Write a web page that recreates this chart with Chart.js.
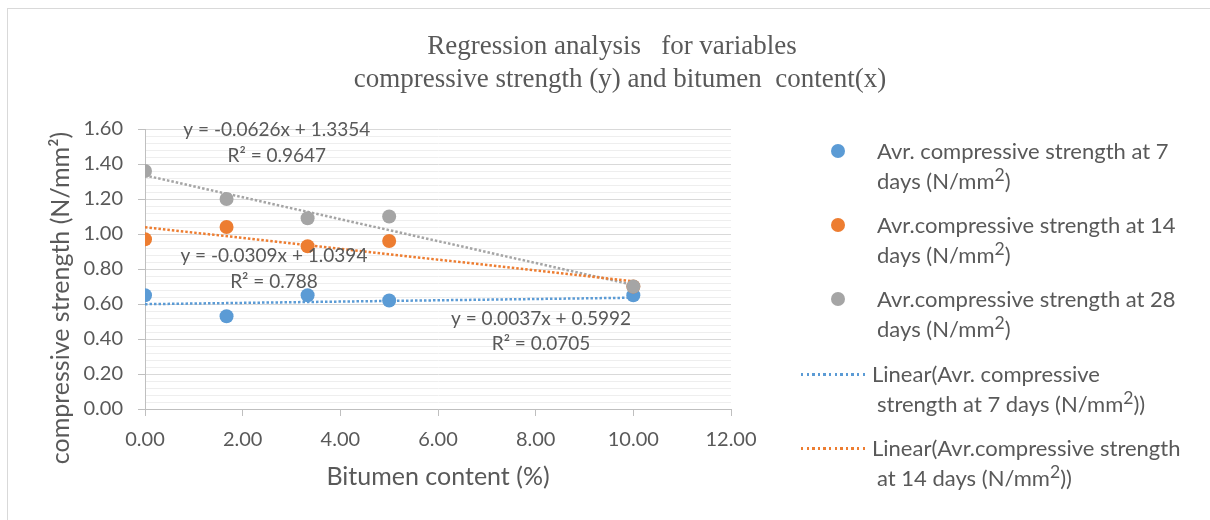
<!DOCTYPE html>
<html>
<head>
<meta charset="utf-8">
<script src="https://cdn.jsdelivr.net/npm/chart.js@4.4.1/dist/chart.umd.min.js"></script>
<style>
  html, body { margin: 0; padding: 0; background: #ffffff; }
  #wrap { position: relative; width: 1210px; height: 520px; overflow: hidden; font-family: Lato, sans-serif; color: #595959; }
  #frame { position: absolute; left: 7px; top: 8px; width: 1400px; height: 700px; border-left: 1px solid #d9d9d9; border-top: 1px solid #d9d9d9; }
  #chart { position: absolute; left: 0; top: 0; }
  .mark { position: absolute; }
  .label { position: absolute; left: 877px; font-size: 22px; line-height: 29.5px; white-space: nowrap; }
  .label sup { font-size: 0.8em; line-height: 0; vertical-align: 0.45em; }
</style>
</head>
<body>
<div id="wrap">
  <div id="frame"></div>
  <canvas id="chart" width="1210" height="520"></canvas>
  <div id="legend"></div>
</div>
<script>
// Dados
const bitumen = [0, 1.67, 3.33, 5, 10];
const strength7 = [0.65, 0.53, 0.65, 0.62, 0.65];
const strength14 = [0.97, 1.04, 0.93, 0.96, 0.70];
const strength28 = [1.36, 1.20, 1.09, 1.10, 0.70];

// Linhas de tendência (extremos lidos em x = 0 e x = 10)
const trendX = [0, 10];
const trend7 = [0.599, 0.636];
const trend14 = [1.039, 0.730];
const trend28 = [1.335, 0.709];

const xTicks = [0, 2, 4, 6, 8, 10, 12];
const yTicks = [0, 0.2, 0.4, 0.6, 0.8, 1.0, 1.2, 1.4, 1.6];

const titleLines = ['Regression analysis   for variables', 'compressive strength (y) and bitumen  content(x)'];
const xTitle = 'Bitumen content (%)';
const yTitle = 'compressive strength (N/mm²)';
const equations = ['y = 0.0037x + 0.5992', 'y = -0.0309x + 1.0394', 'y = -0.0626x + 1.3354'];
const rSquared = ['R² = 0.0705', 'R² = 0.788', 'R² = 0.9647'];
const legendLines = [
    ['Avr. compressive strength at 7', 'days (N/mm<sup>2</sup>)'],
    ['Avr.compressive strength at 14', 'days (N/mm<sup>2</sup>)'],
    ['Avr.compressive strength at 28', 'days (N/mm<sup>2</sup>)'],
    ['Linear(Avr. compressive', 'strength at 7 days (N/mm<sup>2</sup>))'],
    ['Linear(Avr.compressive strength', 'at 14 days (N/mm<sup>2</sup>))']
];

const COLORS = {
    blue: '#5B9BD5',
    orange: '#ED7D31',
    gray: '#A5A5A5',
    text: '#595959',
    axis: '#BFBFBF',
    major: '#D9D9D9',
    minor: '#EEEEEE'
};

// posições dos rótulos das equações, em unidades dos eixos
const EQ_POS = [
    { x: 8.11, y: 0.514, dy: 25 },
    { x: 2.64, y: 0.874, dy: 26 },
    { x: 2.70, y: 1.594, dy: 26 }
];
const SERIES_COLORS = [COLORS.blue, COLORS.orange, COLORS.gray];

function toPoints(xs, ys) {
    return xs.map((x, i) => ({ x: x, y: ys[i] }));
}

function pointSet(label, ys, color, order) {
    return {
        label: label,
        data: toPoints(bitumen, ys),
        backgroundColor: color,
        borderWidth: 0,
        pointRadius: 7,
        pointHoverRadius: 7,
        showLine: false,
        order: order
    };
}

function trendSet(label, ys, color) {
    return {
        label: label,
        data: toPoints(trendX, ys),
        borderColor: color,
        borderWidth: 2.5,
        borderDash: [2.5, 2],
        borderCapStyle: 'butt',
        pointRadius: 0,
        showLine: true,
        fill: false,
        order: 10
    };
}

const textPlugin = {
    id: 'texts',
    afterDatasetsDraw(chart) {
        const ctx = chart.ctx;
        const xs = chart.scales.x, ys = chart.scales.y;
        ctx.save();
        ctx.fillStyle = COLORS.text;
        ctx.textAlign = 'center';
        ctx.textBaseline = 'middle';

        // título
        ctx.font = '27px "Liberation Serif", "Times New Roman", serif';
        ctx.fillText(titleLines[0], 612, 47);
        ctx.fillText(titleLines[1], 620, 80);

        // título do eixo y
        ctx.font = '25px Lato, sans-serif';
        ctx.save();
        ctx.translate(61, 298);
        ctx.rotate(-Math.PI / 2);
        ctx.fillText(yTitle, 0, 0);
        ctx.restore();

        // equações das linhas de tendência
        ctx.font = '19px Lato, sans-serif';
        EQ_POS.forEach((p, i) => {
            const px = xs.getPixelForValue(p.x);
            const py = ys.getPixelForValue(p.y);
            ctx.fillText(equations[i], px, py);
            ctx.fillText(rSquared[i], px, py + p.dy);
        });
        ctx.restore();
    }
};

function buildLegend() {
    const box = document.getElementById('legend');
    const firstLine = [151, 225, 299, 374, 448];
    legendLines.forEach((lines, i) => {
        const y = firstLine[i];
        const color = SERIES_COLORS[i % 3];
        const mark = document.createElement('div');
        mark.className = 'mark';
        if (i < 3) {
            mark.style.cssText = 'left:831px;top:' + (y - 7) + 'px;width:14px;height:14px;border-radius:50%;background:' + color;
        } else {
            mark.style.cssText = 'left:801px;top:' + (y - 1) + 'px;width:67px;height:2.5px;' +
                'background:repeating-linear-gradient(90deg,' + color + ' 0 2.5px, transparent 2.5px 5.6px)';
        }
        box.appendChild(mark);
        const label = document.createElement('div');
        label.className = 'label';
        label.style.top = (y - 15) + 'px';
        if (i >= 3) label.style.textIndent = '-5px';
        label.innerHTML = lines.join('<br>');
        box.appendChild(label);
    });
}

function createChart() {
    Chart.defaults.font.family = 'Lato, sans-serif';
    Chart.defaults.color = COLORS.text;

    const config = {
        type: 'scatter',
        data: {
            datasets: [
                pointSet('Avr. compressive strength at 7 days', strength7, COLORS.blue, 3),
                pointSet('Avr.compressive strength at 14 days', strength14, COLORS.orange, 2),
                pointSet('Avr.compressive strength at 28 days', strength28, COLORS.gray, 1),
                trendSet('Linear 7', trend7, COLORS.blue),
                trendSet('Linear 14', trend14, COLORS.orange),
                trendSet('Linear 28', trend28, COLORS.gray)
            ]
        },
        options: {
            responsive: false,
            animation: false,
            events: [],
            layout: { padding: { left: 0, top: 129, right: 479, bottom: 0 } },
            plugins: {
                legend: { display: false },
                title: { display: false },
                tooltip: { enabled: false }
            },
            scales: {
                x: {
                    type: 'linear',
                    min: 0,
                    max: 12,
                    afterBuildTicks: s => { s.ticks = xTicks.map(v => ({ value: v })); },
                    afterFit: s => { s.height = 111; },
                    ticks: {
                        autoSkip: false,
                        maxRotation: 0,
                        padding: 12,
                        font: { size: 20 },
                        callback: v => Number(v).toFixed(2)
                    },
                    grid: { drawOnChartArea: false, drawTicks: true, tickLength: 7, color: COLORS.axis },
                    border: { color: COLORS.axis, width: 1 },
                    title: {
                        display: true,
                        text: xTitle,
                        font: { size: 25 },
                        padding: { top: 0, bottom: 28 }
                    }
                },
                y: {
                    type: 'linear',
                    min: 0,
                    max: 1.6,
                    afterBuildTicks: s => {
                        const list = [];
                        yTicks.forEach((v, i) => {
                            list.push({ value: v, isMajor: true });
                            if (i < yTicks.length - 1) {
                                for (let k = 1; k < 5; k++) {
                                    list.push({ value: v + (yTicks[i + 1] - v) * k / 5, isMajor: false });
                                }
                            }
                        });
                        s.ticks = list;
                    },
                    afterFit: s => { s.width = 145; },
                    ticks: {
                        autoSkip: false,
                        padding: 15,
                        font: { size: 20 },
                        callback: (v, i, t) => t[i].isMajor ? Number(v).toFixed(2) : ''
                    },
                    grid: {
                        tickLength: 7,
                        color: c => (c.tick && c.tick.isMajor) ? COLORS.major : COLORS.minor,
                        tickColor: c => (c.tick && c.tick.isMajor) ? COLORS.axis : 'rgba(0,0,0,0)'
                    },
                    border: { color: COLORS.axis, width: 1 }
                }
            }
        },
        plugins: [textPlugin]
    };

    new Chart(document.getElementById('chart').getContext('2d'), config);
}

buildLegend();
createChart();
</script>
</body>
</html>
